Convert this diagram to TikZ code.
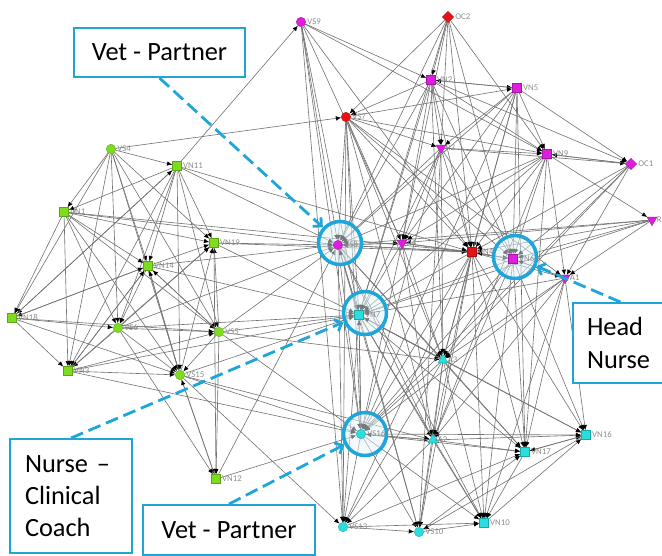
\documentclass[tikz,border=0pt]{standalone}
\usepackage{fontspec}
\setmainfont{Carlito}
\usetikzlibrary{arrows.meta,shapes.geometric}
\definecolor{ngreen}{RGB}{125,220,30}
\definecolor{nmagenta}{RGB}{222,30,222}
\definecolor{nred}{RGB}{228,20,20}
\definecolor{ncyan}{RGB}{40,222,222}
\definecolor{cblue}{RGB}{30,165,218}
\pgfdeclarelayer{edgelayer}
\pgfdeclarelayer{ringlayer}
\pgfsetlayers{edgelayer,ringlayer,main}

\begin{document}
\begin{tikzpicture}[x=0.02cm,y=-0.02cm,
  lbl/.style={font=\fontsize{5}{6}\selectfont, text=black!45, inner sep=0.6pt},
  base/.style={inner sep=0pt, fill=#1, draw=#1!75!black, line width=0.2pt},
  gsq/.style={base=ngreen, rectangle, minimum size=5.2pt},
  gcir/.style={base=ngreen, circle, minimum size=5.4pt},
  msq/.style={base=nmagenta, rectangle, minimum size=5.2pt},
  mcir/.style={base=nmagenta, circle, minimum size=5.4pt},
  mdia/.style={base=nmagenta, diamond, minimum size=6.5pt},
  mtri/.style={base=nmagenta, regular polygon, regular polygon sides=3, shape border rotate=180, minimum size=6.5pt},
  rsq/.style={base=nred, rectangle, minimum size=5.2pt},
  rcir/.style={base=nred, circle, minimum size=5.4pt},
  rdia/.style={base=nred, diamond, minimum size=6.5pt},
  csq/.style={base=ncyan, rectangle, minimum size=5.2pt},
  ccir/.style={base=ncyan, circle, minimum size=5.4pt},
  ctri/.style={base=ncyan, regular polygon, regular polygon sides=3, minimum size=6.5pt},
  edge/.style={draw=black!55, line width=0.35pt, -{Latex[length=3pt,width=2.6pt,color=black]}},
  ring/.style={circle, draw=cblue, line width=2pt, minimum size=0.86cm, fill=cblue!12, fill opacity=0.5},
  callout/.style={draw=cblue, line width=1.1pt, fill=white, font=\fontsize{15}{18.3}\selectfont, align=left},
  callline/.style={draw=cblue, line width=1.6pt, dash pattern=on 7.4pt off 3.4pt, -{Straight Barb[length=3.5pt,width=7pt]}}]

\useasboundingbox (0,0) rectangle (662,555);

% Actors
\foreach \n/\x/\y/\s in {
  VS4/111/149/gcir, VN11/177/166/gsq, VN1/64/212/gsq, VN19/214/243/gsq,
  VN14/148/266/gsq, VN18/12/318/gsq, VS6/118/328/gcir, VS5/219/332/gcir,
  VN3/68/371/gsq, VS15/180/375/gcir, VN12/216/479/gsq,
  VS9/301/22/mcir, VN2/431/80/msq, VN5/517/88/msq, R2/441/148/mtri,
  VN9/547/154/msq, OC1/631/164/mdia, R1/652/220/mtri, VS8/338/245/mcir,
  A4/402/243/mtri, VN6/513/259/msq, A1/565/278/mtri,
  OC2/448/17/rdia, VS7/346/117/rcir, VN4/472/252/rsq,
  VN7/359/315/csq, A3/443/360/ctri, VS16/361/434/ccir, A2/433/440/ctri,
  VN16/586/435/csq, VN17/525/452/csq, VN10/484/523/csq,
  VS13/343/527/ccir, VS10/419/532/ccir} {
  \node[\s, label={[lbl]0:\n}] (\n) at (\x,\y) {};
}

% Ties
\begin{pgfonlayer}{edgelayer}
\foreach \a/\b in {
  VS4/VN11, VS4/VN1, VS4/VN14, VS4/VS6, VS4/VN3, VS4/VS15, VS4/VN19, VS4/VS5, VS4/VN18, VS4/VS7,
  VN11/VN1, VN11/VN14, VN11/VS6, VN11/VS15, VN11/VN19, VN11/VS5, VN11/VN18, VN11/VN3,
  VN11/VS9, VN11/VS8, VN11/VN4,
  VN1/VN14, VN1/VN3, VN1/VS6, VN1/VS15, VN1/VN19, VN1/VN18, VN1/VS5, VN1/VS8, VN1/VN4,
  VN14/VN19, VN14/VS15, VN14/VS6, VN14/VN3, VN14/VN18, VN14/VS5, VN14/VS8, VN14/VN7,
  VN18/VN3, VN18/VS6, VN18/VS15, VN18/VN11, VN18/VN14, VN18/VS5,
  VS6/VS5, VS6/VN19, VS6/VS15, VS6/VN3, VS6/VN7, VS6/VS8, VS6/VN12,
  VS5/VN19, VS5/VS15, VS5/VN12, VS5/VN14, VS5/VN7, VS5/A3, VS5/VS16, VS5/VS8,
  VN3/VS15, VN3/VS5, VN3/VN19, VN3/VS16, VN3/VN7, VN3/VN14,
  VS15/VN19, VS15/VN14, VS15/VN12, VS15/VS16, VS15/VS13, VS15/VN7, VS15/A2,
  VN19/VN12, VN19/VS8, VN19/VN7, VN19/VN4, VN12/VS16, VN12/VS8, VN12/VS15,
  VS9/VS8, VS9/VN2, VS9/VN4, VS9/A4, VS9/VN7, VS9/VS13, VS9/VS16, VS9/VN9,
  OC2/VS7, OC2/VN2, OC2/R2, OC2/VN4, OC2/VN9, OC2/VN6, OC2/VS8, OC2/A4, OC2/VN7,
  VN2/VS7, VN2/VN5, VN2/R2, VN2/VN9, VN2/OC1, VN2/VN4, VN2/VN6, VN2/A4, VN2/VS8, VN2/VN7, VN2/A3,
  VN5/VN2, VN5/R2, VN5/VN9, VN5/OC1, VN5/VN4, VN5/VN6, VN5/A4, VN5/VS8, VN5/A3, VN5/VN17, VN5/VS16,
  VS7/VS8, VS7/VN7, VS7/VS16, VS7/VN4, VS7/A4, VS7/R2, VS7/VN9, VS7/VN6, VS7/A1,
  VS7/VS13, VS7/A2, VS7/A3, VS7/VN5,
  R2/VN9, R2/VN4, R2/A4, R2/VS8, R2/VN7, R2/VN6, R2/VS16, R2/A3, R2/OC1, R2/VS10,
  VN9/OC1, VN9/VN4, VN9/VN6, VN9/A4, VN9/VS8, VN9/A1, VN9/VN7, VN9/A2, VN9/R1, VN9/VN17,
  OC1/VN4, OC1/A1, OC1/VN6, OC1/A3, OC1/VS16, OC1/VN9,
  R1/VN4, R1/VN6, R1/A4, R1/VS8, R1/A1, R1/VN7,
  VS8/A4, VS8/VN4, VS8/VN7, VS8/VS16, VS8/A3, VS8/A2, VS8/VS13, VS8/VS10, VS8/VN10, VS8/VN17,
  A4/VN4, A4/VN7, A4/VS16, A4/A3, A4/A2, A4/VN6, A4/VS8,
  VN4/VN6, VN4/A1, VN4/VN7, VN4/VS16, VN4/A3, VN4/A2, VN4/VN10, VN4/VS10, VN4/VN17,
  VN4/VN16, VN4/VS13, VN4/VS8,
  VN6/A1, VN6/VN7, VN6/A3, VN6/A2, VN6/VN16, VN6/VN17, VN6/VN10, VN6/VS16, VN6/VN4,
  A1/VN7, A1/A3, A1/VS16, A1/VN16, A1/VN17, A1/A2, A1/VN10, A1/VN6,
  VN7/A3, VN7/VS16, VN7/A2, VN7/VS13, VN7/VS10, VN7/VN10, VN7/VN17, VN7/VN16, VN7/VS8,
  A3/A2, A3/VS16, A3/VN17, A3/VN16, A3/VN10, A3/VS10, A3/VS13, A3/VN7,
  VS16/A2, VS16/VS13, VS16/VS10, VS16/VN10, VS16/VN17, VS16/VN16, VS16/VN7,
  A2/VN17, A2/VN16, A2/VS10, A2/VN10, A2/VS13, A2/VS16,
  VN17/VN16, VN17/VN10, VS10/VN10, VS13/VS10, VS13/VN10, VS13/VN17, VS10/VN17,
  VN16/VS10, VN16/VN17, VN10/VN16} {
  \draw[edge] (\a) -- (\b);
}
\end{pgfonlayer}

% Highlight rings
\begin{pgfonlayer}{ringlayer}
\node[ring] (rVS8) at (340,243) {};
\node[ring] (rVN7) at (365,313) {};
\node[ring] (rVS16) at (365,434) {};
\node[ring] (rVN6) at (515,257) {};
\end{pgfonlayer}

% Callouts
\node[callout, minimum width=3.42cm, minimum height=0.98cm] (cVetTop) at (159.5,52.5) {Vet - Partner};
\node[callout, minimum width=1.9cm, minimum height=1.6cm, text width=1.34cm, inner xsep=0.28cm] (cHead) at (620.5,343) {Head\\Nurse};
\node[callout, minimum width=2.44cm, minimum height=2.28cm, text width=1.84cm, inner xsep=0.3cm] (cNurse) at (71,496) {Nurse –\\Clinical\\Coach};
\node[callout, minimum width=3.44cm, minimum height=1.0cm] (cVetBot) at (229,530) {Vet - Partner};

\draw[callline] (cVetTop.south) -- (rVS8);
\draw[callline] (cHead.north) -- (rVN6);
\draw[callline] (cNurse.north) -- (rVN7);
\draw[callline] (cVetBot.north) -- (rVS16);

\end{tikzpicture}
\end{document}
